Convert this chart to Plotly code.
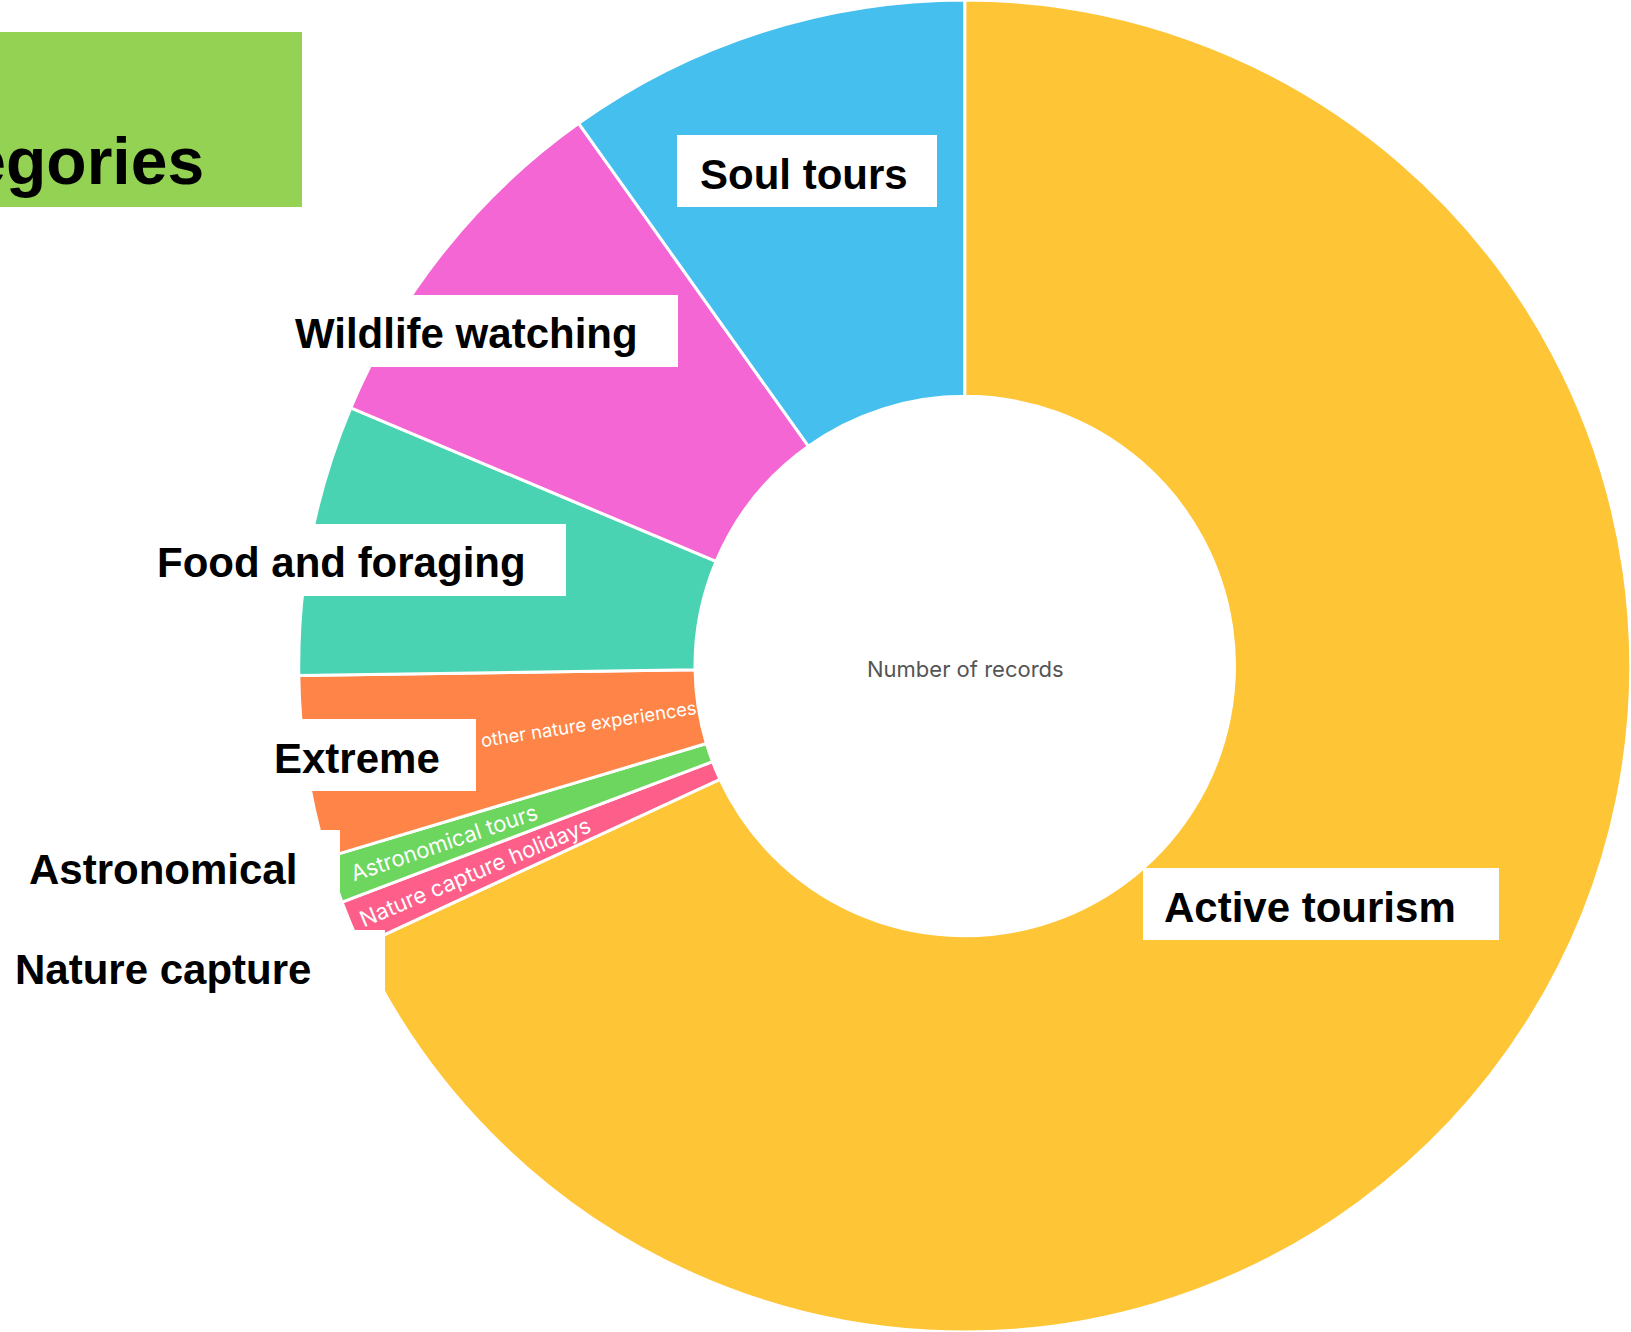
import plotly.graph_objects as go

# slice data (clockwise from 12 o'clock)
categories = ["Active tourism", "Nature capture holidays", "Astronomical tours",
              "Extreme sports and other nature experiences", "Food and foraging",
              "Wildlife watching", "Soul tours"]
records = [602, 10, 10, 39, 58, 78, 87]
colors = ["#FEC536", "#FE5F8A", "#6CD65F", "#FE8547", "#4AD3B3", "#F466D3", "#45C0EE"]
show_inside = [False, True, True, True, False, False, False]

# short labels placed in white boxes
box_labels = ["Soul tours", "Wildlife watching", "Food and foraging", "Extreme",
              "Astronomical", "Nature capture", "Active tourism"]
# box x0, x1, y0 (pixels from top-left), text left
boxes = [(677, 937, 135, 698), (273, 678, 295, 293), (135, 566, 524, 155),
         (252, 476, 719, 272), (0, 340, 830, 27), (0, 385, 930, 13),
         (1143, 1499, 868, 1162)]

W, H = 1631, 1332
BOX_H = 72


def px(x):
    return x / W


def py(y):
    return 1 - y / H


fig = go.Figure()
fig.add_trace(go.Pie(
    labels=categories,
    values=records,
    sort=False,
    direction="clockwise",
    rotation=0,
    hole=0.405,
    marker=dict(colors=colors, line=dict(color="white", width=3)),
    texttemplate=["%{label}" if s else "" for s in show_inside],
    textposition="inside",
    insidetextorientation="radial",
    insidetextfont=dict(family="Inter, Roboto, sans-serif", size=22, color="white"),
    domain=dict(x=[0.183, 1], y=[0, 1]),
    showlegend=False,
    hoverinfo="label+value",
))

shapes = []
annotations = []
for lab, (x0, x1, y0, tx) in zip(box_labels, boxes):
    shapes.append(dict(type="rect", xref="paper", yref="paper", layer="above",
                       x0=px(x0), x1=px(x1), y0=py(y0 + BOX_H), y1=py(y0),
                       fillcolor="white", line=dict(width=0)))
    annotations.append(dict(text=lab, xref="paper", yref="paper", x=px(tx), y=py(y0 + 39),
                            xanchor="left", yanchor="middle", showarrow=False,
                            font=dict(family="Arial, Liberation Sans, sans-serif", size=42,
                                      color="black", weight="bold")))

# green title box, cut at the left edge
shapes.append(dict(type="rect", xref="paper", yref="paper", layer="above",
                   x0=px(-20), x1=px(302), y0=py(207), y1=py(32),
                   fillcolor="#94D254", line=dict(width=0)))
annotations.append(dict(text="Categories", xref="paper", yref="paper", x=px(206), y=py(161),
                        xanchor="right", yanchor="middle", showarrow=False,
                        font=dict(family="Arial, Liberation Sans, sans-serif", size=66,
                                  color="black", weight="bold")))

annotations.append(dict(text="Number of records", xref="paper", yref="paper",
                        x=px(965), y=py(669), xanchor="center", yanchor="middle",
                        showarrow=False,
                        font=dict(family="Inter, Roboto, sans-serif", size=22, color="#555555")))

fig.update_layout(
    width=W,
    height=H,
    margin=dict(l=0, r=0, t=0, b=0),
    paper_bgcolor="white",
    plot_bgcolor="white",
    shapes=shapes,
    annotations=annotations,
)
fig.write_html("out.html", config={"displayModeBar": False},
               post_script="document.body.style.margin='0px';")
